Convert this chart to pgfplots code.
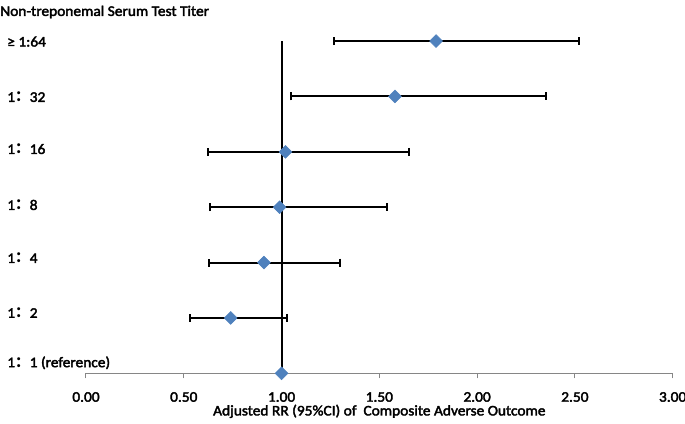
\documentclass[border=0pt]{standalone}
\usepackage{pgfplots}
\pgfplotsset{compat=1.18}
\usepackage{pgfplotstable}
\usepackage{fontspec}
\setmainfont{Carlito}[BoldFont=Carlito, BoldFeatures={FakeBold=2.5, FakeStretch=1.05}]
\newfontfamily\cjk{Noto Sans CJK SC}
\newcommand\fc{{\cjk ：}}
\definecolor{mkblue}{HTML}{4F81BD}
\definecolor{axgray}{HTML}{868686}
\pgfplotstableread{
y x ep em
6 1.79 0.73 0.52
5 1.58 0.77 0.53
4 1.02 0.63 0.395
3 0.99 0.55 0.355
2 0.91 0.39 0.28
1 0.74 0.29 0.21
}\cidata
\pgfplotstableread{
y x
6 1.79
5 1.58
4 1.02
3 0.99
2 0.91
1 0.74
0 1.00
}\ptdata
\begin{document}
\fontsize{11}{13}\selectfont
\begin{tikzpicture}
\path[use as bounding box] (-64.5pt,-38pt) rectangle (449.25pt,280pt);
\begin{axis}[
  at={(0,0)}, anchor=origin,
  scale only axis,
  width=440pt, height=257.5pt,
  xmin=0, xmax=3, ymin=0, ymax=6.2,
  axis x line*=bottom,
  axis y line*=left,
  y axis line style={draw=none},
  x axis line style={draw=axgray, line width=0.75pt},
  xtick={0,0.5,1,1.5,2,2.5,3},
  xtick align=outside,
  major tick length=3.75pt,
  xtick style={draw=axgray, line width=0.75pt},
  ytick={0.19,1.09,2.08,3.04,4.05,4.99,5.99},
  ytick style={draw=none},
  yticklabels={1\fc1 (reference), 1\fc2, 1\fc4, 1\fc8, 1\fc16, 1\fc32, ≥ 1:64},
  yticklabel style={anchor=west, inner sep=0pt, xshift=-59.25pt, font=\fontsize{11}{13}\selectfont\bfseries},
  xticklabel style={anchor=center, inner sep=0pt, yshift=-14pt, font=\fontsize{11}{13}\selectfont\bfseries},
  /pgf/number format/.cd, fixed, fixed zerofill, precision=2, assume math mode=true,
  /pgfplots/.cd,
  xlabel={Adjusted RR (95\%CI) of \ Composite Adverse Outcome},
  xlabel style={at={(axis description cs:0.5,0)}, anchor=center, inner sep=0pt, yshift=-28.5pt, font=\fontsize{11}{13}\selectfont\bfseries},
  clip=false,
]
\addplot[black, line width=1.5pt] coordinates {(1,0) (1,6)};
\addplot[draw=none, mark=none, forget plot,
  error bars/.cd, x dir=both, x explicit,
  error bar style={draw=black, line width=1.5pt},
  error mark options={draw=black, line width=1.5pt, mark size=3pt, rotate=90}]
  table[x=x, y=y, x error plus=ep, x error minus=em] {\cidata};
\addplot[only marks, mark=square*, mark size=3.4pt, mark options={rotate=45, fill=mkblue, draw=mkblue}]
  table[x=x, y=y] {\ptdata};
\end{axis}
\node[anchor=west, font=\fontsize{11}{13}\selectfont\bfseries, inner sep=0pt] at (-64.5pt,271pt) {Non-treponemal Serum Test Titer};
\end{tikzpicture}
\end{document}
